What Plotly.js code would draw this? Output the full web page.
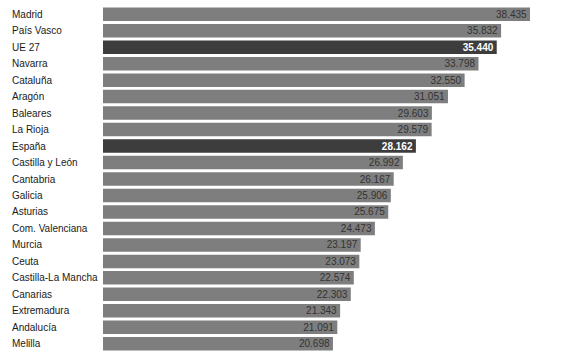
<!DOCTYPE html>
<html>
<head>
<meta charset="utf-8">
<script src="https://cdn.plot.ly/plotly-3.0.1.min.js"></script>
<style>html,body{margin:0;padding:0;background:#fff;}#chart{width:585px;height:362px;}</style>
</head>
<body>
<div id="chart"></div>
<script>
const regions = ["Madrid","País Vasco","UE 27","Navarra","Cataluña","Aragón","Baleares","La Rioja","España","Castilla y León","Cantabria","Galicia","Asturias","Com. Valenciana","Murcia","Ceuta","Castilla-La Mancha","Canarias","Extremadura","Andalucía","Melilla"];
const values = [38435,35832,35440,33798,32550,31051,29603,29579,28162,26992,26167,25906,25675,24473,23197,23073,22574,22303,21343,21091,20698];
const highlighted = ["UE 27","España"];

const fmt = v => { const s = String(v); return s.slice(0, s.length-3) + "." + s.slice(-3); };
const isHi = regions.map(r => highlighted.includes(r));

const trace = {
  type: "bar",
  orientation: "h",
  y: regions,
  x: values,
  text: values.map(fmt),
  textposition: "inside",
  insidetextanchor: "end",
  textangle: 0,
  insidetextfont: {
    family: "Liberation Sans, Arial, sans-serif",
    size: 10,
    color: isHi.map(h => h ? "#ffffff" : "#333333"),
    weight: isHi.map(h => h ? 700 : 400)
  },
  marker: { color: isHi.map(h => h ? "#3d3d3d" : "#7e7e7e"), line: {width: 0} },
  hoverinfo: "none",
  cliponaxis: false
};

const annotations = regions.map(r => ({
  xref: "paper", yref: "y",
  x: -(103 - 10) / 482, y: r,
  xanchor: "left", yanchor: "middle",
  text: r, showarrow: false,
  font: { family: "Liberation Sans, Arial, sans-serif", size: 10, color: "#1a1a1a" }
}));

const layout = {
  width: 585, height: 362,
  margin: { l: 103, r: 0, t: 6, b: 9.5, pad: 0 },
  paper_bgcolor: "#ffffff", plot_bgcolor: "#ffffff",
  bargap: 0.18,
  showlegend: false,
  uniformtext: { mode: "show", minsize: 10 },
  xaxis: { range: [0, 43385], showgrid: false, zeroline: false, showticklabels: false, ticks: "", showline: false, fixedrange: true },
  yaxis: { type: "category", categoryorder: "array", categoryarray: regions, autorange: "reversed", showticklabels: false, ticks: "", showgrid: false, zeroline: false, showline: false },
  annotations: annotations
};

Plotly.newPlot("chart", [trace], layout, { displayModeBar: false, staticPlot: true });
</script>
</body>
</html>
